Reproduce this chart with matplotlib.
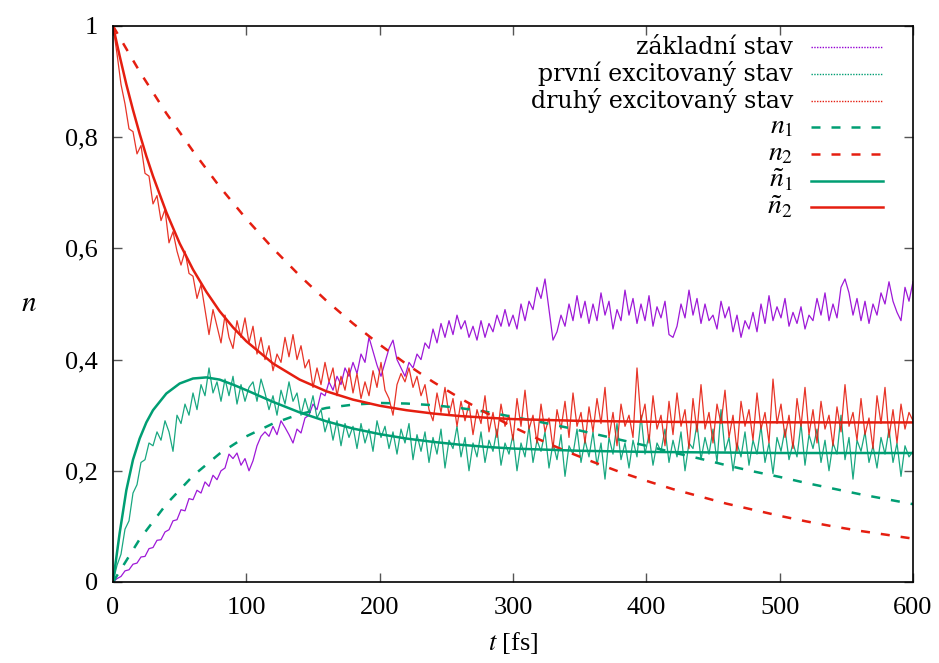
import numpy as np
import matplotlib
matplotlib.use("Agg")
import matplotlib.pyplot as plt

plt.rcParams['font.family'] = ['Liberation Serif', 'DejaVu Serif']
plt.rcParams['mathtext.fontset'] = 'stix'

# ---------------- data ----------------
t_noisy = np.arange(0, 601, 3)

ground_state = [
    0.000, 0.006, 0.010, 0.020, 0.022, 0.032, 0.034, 0.045, 0.046, 0.060,
    0.062, 0.075, 0.076, 0.090, 0.094, 0.110, 0.112, 0.130, 0.128, 0.150,
    0.148, 0.165, 0.160, 0.180, 0.172, 0.192, 0.184, 0.200, 0.205, 0.230,
    0.222, 0.232, 0.210, 0.222, 0.200, 0.218, 0.245, 0.262, 0.270, 0.262,
    0.280, 0.265, 0.290, 0.278, 0.265, 0.250, 0.275, 0.268, 0.295, 0.300,
    0.320, 0.310, 0.340, 0.335, 0.360, 0.345, 0.370, 0.355, 0.385, 0.370,
    0.395, 0.375, 0.410, 0.395, 0.440, 0.415, 0.390, 0.370, 0.395, 0.420,
    0.435, 0.400, 0.385, 0.370, 0.395, 0.385, 0.410, 0.400, 0.430, 0.420,
    0.455, 0.430, 0.465, 0.440, 0.470, 0.445, 0.480, 0.455, 0.470, 0.440,
    0.460, 0.435, 0.470, 0.440, 0.465, 0.450, 0.480, 0.460, 0.490, 0.460,
    0.480, 0.455, 0.500, 0.470, 0.505, 0.490, 0.530, 0.510, 0.545, 0.490,
    0.435, 0.450, 0.480, 0.460, 0.500, 0.470, 0.515, 0.475, 0.505, 0.465,
    0.500, 0.470, 0.520, 0.480, 0.505, 0.455, 0.490, 0.470, 0.525, 0.480,
    0.510, 0.465, 0.500, 0.470, 0.515, 0.460, 0.495, 0.475, 0.505, 0.445,
    0.440, 0.460, 0.500, 0.475, 0.525, 0.480, 0.510, 0.465, 0.500, 0.470,
    0.480, 0.455, 0.505, 0.475, 0.495, 0.450, 0.480, 0.440, 0.470, 0.455,
    0.485, 0.450, 0.500, 0.465, 0.515, 0.470, 0.495, 0.475, 0.510, 0.460,
    0.485, 0.465, 0.495, 0.455, 0.480, 0.470, 0.510, 0.480, 0.520, 0.470,
    0.500, 0.475, 0.530, 0.545, 0.520, 0.480, 0.510, 0.470, 0.505, 0.465,
    0.500, 0.480, 0.520, 0.500, 0.540, 0.505, 0.485, 0.470, 0.530, 0.505,
    0.540,
]

first_excited = [
    0.000, 0.030, 0.050, 0.095, 0.110, 0.160, 0.175, 0.215, 0.220, 0.250,
    0.245, 0.270, 0.255, 0.290, 0.270, 0.235, 0.300, 0.285, 0.320, 0.300,
    0.340, 0.310, 0.355, 0.335, 0.385, 0.340, 0.360, 0.325, 0.365, 0.335,
    0.370, 0.320, 0.355, 0.325, 0.350, 0.360, 0.325, 0.365, 0.340, 0.310,
    0.335, 0.300, 0.345, 0.320, 0.360, 0.325, 0.340, 0.300, 0.330, 0.305,
    0.335, 0.295, 0.310, 0.270, 0.295, 0.255, 0.290, 0.245, 0.285, 0.260,
    0.280, 0.240, 0.285, 0.250, 0.275, 0.235, 0.290, 0.260, 0.280, 0.240,
    0.270, 0.230, 0.275, 0.250, 0.285, 0.220, 0.265, 0.235, 0.270, 0.215,
    0.260, 0.230, 0.275, 0.205, 0.255, 0.240, 0.280, 0.225, 0.260, 0.200,
    0.250, 0.225, 0.270, 0.215, 0.255, 0.235, 0.275, 0.210, 0.250, 0.230,
    0.265, 0.200, 0.250, 0.225, 0.280, 0.215, 0.255, 0.235, 0.270, 0.205,
    0.250, 0.220, 0.265, 0.190, 0.245, 0.230, 0.275, 0.215, 0.255, 0.225,
    0.270, 0.210, 0.250, 0.185, 0.260, 0.230, 0.285, 0.220, 0.250, 0.205,
    0.255, 0.225, 0.300, 0.230, 0.265, 0.210, 0.250, 0.235, 0.275, 0.215,
    0.255, 0.225, 0.270, 0.200, 0.250, 0.240, 0.285, 0.220, 0.260, 0.230,
    0.275, 0.215, 0.310, 0.235, 0.260, 0.200, 0.250, 0.225, 0.270, 0.210,
    0.255, 0.230, 0.280, 0.215, 0.250, 0.195, 0.260, 0.235, 0.275, 0.220,
    0.250, 0.225, 0.285, 0.210, 0.265, 0.240, 0.275, 0.215, 0.255, 0.200,
    0.250, 0.230, 0.300, 0.220, 0.260, 0.185, 0.255, 0.235, 0.270, 0.215,
    0.245, 0.205, 0.260, 0.230, 0.275, 0.215, 0.250, 0.190, 0.245, 0.225,
    0.235,
]

second_excited = [
    1.000, 0.950, 0.895, 0.860, 0.815, 0.810, 0.770, 0.785, 0.735, 0.730,
    0.680, 0.695, 0.650, 0.670, 0.610, 0.630, 0.595, 0.570, 0.595, 0.555,
    0.550, 0.510, 0.535, 0.490, 0.445, 0.490, 0.460, 0.430, 0.480, 0.440,
    0.420, 0.470, 0.440, 0.475, 0.430, 0.460, 0.410, 0.440, 0.400, 0.425,
    0.380, 0.410, 0.395, 0.440, 0.405, 0.445, 0.400, 0.425, 0.385, 0.400,
    0.350, 0.385, 0.355, 0.395, 0.360, 0.385, 0.335, 0.370, 0.345, 0.385,
    0.340, 0.375, 0.330, 0.360, 0.335, 0.380, 0.350, 0.395, 0.345, 0.330,
    0.300, 0.355, 0.375, 0.360, 0.385, 0.350, 0.370, 0.335, 0.355, 0.310,
    0.290, 0.340, 0.305, 0.350, 0.300, 0.330, 0.280, 0.325, 0.290, 0.320,
    0.265, 0.310, 0.285, 0.335, 0.270, 0.305, 0.260, 0.320, 0.280, 0.300,
    0.255, 0.330, 0.280, 0.345, 0.275, 0.300, 0.250, 0.320, 0.270, 0.295,
    0.240, 0.310, 0.275, 0.325, 0.260, 0.340, 0.280, 0.305, 0.250, 0.315,
    0.270, 0.330, 0.285, 0.350, 0.260, 0.305, 0.245, 0.320, 0.280, 0.300,
    0.260, 0.385, 0.290, 0.320, 0.250, 0.335, 0.275, 0.300, 0.245, 0.325,
    0.265, 0.340, 0.280, 0.310, 0.240, 0.330, 0.270, 0.355, 0.275, 0.305,
    0.250, 0.320, 0.285, 0.345, 0.260, 0.300, 0.235, 0.325, 0.280, 0.310,
    0.255, 0.340, 0.275, 0.305, 0.250, 0.365, 0.285, 0.320, 0.260, 0.300,
    0.240, 0.330, 0.280, 0.350, 0.265, 0.310, 0.250, 0.325, 0.275, 0.300,
    0.245, 0.315, 0.270, 0.355, 0.280, 0.305, 0.255, 0.330, 0.265, 0.295,
    0.240, 0.335, 0.285, 0.350, 0.260, 0.310, 0.250, 0.320, 0.275, 0.305,
    0.290,
]

# model curves n1, n2 (dashed)
t_model = np.arange(0, 601, 20)
n1 = [0.000, 0.077, 0.140, 0.191, 0.231, 0.262, 0.285, 0.302, 0.313, 0.319,
      0.322, 0.321, 0.318, 0.313, 0.306, 0.297, 0.288, 0.278, 0.267, 0.256,
      0.245, 0.233, 0.222, 0.210, 0.199, 0.189, 0.178, 0.168, 0.158, 0.149,
      0.140]
n2 = [1.000, 0.918, 0.843, 0.775, 0.711, 0.653, 0.600, 0.551, 0.506, 0.465,
      0.427, 0.392, 0.360, 0.331, 0.304, 0.279, 0.256, 0.235, 0.216, 0.198,
      0.182, 0.167, 0.154, 0.141, 0.130, 0.119, 0.109, 0.100, 0.092, 0.085,
      0.078]

# fitted curves ñ1, ñ2 (solid)
t_fit = [0, 5, 10, 15, 20, 25, 30, 40, 50, 60, 70, 80, 90, 100, 120, 140, 160,
         180, 200, 220, 240, 260, 280, 300, 350, 400, 450, 500, 550, 600]
n1_fit = [0.000, 0.088, 0.165, 0.220, 0.258, 0.287, 0.309, 0.339, 0.357, 0.366,
          0.368, 0.364, 0.355, 0.345, 0.324, 0.305, 0.289, 0.276, 0.266, 0.258,
          0.252, 0.247, 0.243, 0.240, 0.236, 0.234, 0.233, 0.232, 0.232, 0.232]
n2_fit = [1.000, 0.946, 0.895, 0.849, 0.806, 0.766, 0.730, 0.665, 0.609, 0.562,
          0.522, 0.487, 0.458, 0.433, 0.393, 0.364, 0.343, 0.328, 0.317, 0.309,
          0.303, 0.2985, 0.2955, 0.293, 0.2898, 0.2883, 0.2875, 0.2872, 0.287, 0.287]

labels = ['základní stav', 'první excitovaný stav', 'druhý excitovaný stav',
          r'$n_1$', r'$n_2$', r'$\tilde{n}_1$', r'$\tilde{n}_2$']

x_ticks = [0, 100, 200, 300, 400, 500, 600]
y_ticks = [0, 0.2, 0.4, 0.6, 0.8, 1.0]
y_tick_labels = ['0', '0,2', '0,4', '0,6', '0,8', '1']

# ---------------- style ----------------
PURPLE = '#9400D3'
GREEN = '#009E73'
RED = '#E51E10'
FS = 19

fig = plt.figure(figsize=(9.39, 6.63), dpi=100)
ax = fig.add_axes([113 / 939, 81 / 663, 800 / 939, 556 / 663])

noisy_kw = dict(lw=0.9, alpha=0.9)
ax.plot(t_noisy, ground_state, color=PURPLE, **noisy_kw)
ax.plot(t_noisy, first_excited, color=GREEN, **noisy_kw)
ax.plot(t_noisy, second_excited, color=RED, **noisy_kw)

dash_kw = dict(lw=1.8, dashes=(3.6, 4.4))
ax.plot(t_model, n1, color=GREEN, **dash_kw)
ax.plot(t_model, n2, color=RED, **dash_kw)
ax.plot(t_fit, n1_fit, color=GREEN, lw=1.8)
ax.plot(t_fit, n2_fit, color=RED, lw=1.8)

ax.set_xlim(0, 600)
ax.set_ylim(0, 1)
ax.set_xticks(x_ticks)
ax.set_xticklabels([str(v) for v in x_ticks])
ax.set_yticks(y_ticks)
ax.set_yticklabels(y_tick_labels)
ax.tick_params(direction='in', length=6.5, width=1.0, color='#555555',
               top=True, right=True, labelsize=FS, pad=11)
for s in ax.spines.values():
    s.set_linewidth(1.2)
    s.set_color('black')

ax.set_xlabel(r'$t$ [fs]', fontsize=FS, labelpad=8)
ax.set_ylabel(r'$n$', fontsize=FS + 2, rotation=0, labelpad=26, va='center')

# legend drawn manually (right-aligned texts, sample lines on right)
styles = [
    dict(color=PURPLE, lw=1.0, ls=(0, (1, 1))),
    dict(color=GREEN, lw=1.0, ls=(0, (1, 1))),
    dict(color=RED, lw=1.0, ls=(0, (1, 1))),
    dict(color=GREEN, lw=1.8, dashes=(3.6, 4.4)),
    dict(color=RED, lw=1.8, dashes=(3.6, 4.4)),
    dict(color=GREEN, lw=1.8),
    dict(color=RED, lw=1.8),
]
y0 = (582 - 47.3) / 556
dy = 26.7 / 556
for i, (lab, st) in enumerate(zip(labels, styles)):
    yy = y0 - i * dy
    if i < 3:
        ax.text(0.85, yy, lab, transform=ax.transAxes, ha='right', va='center',
                fontsize=17, family=['DejaVu Serif'])
    else:
        ax.text(0.85, yy, lab, transform=ax.transAxes, ha='right', va='center',
                fontsize=FS + 1)
    ax.plot([0.8725, 0.9625], [yy, yy], transform=ax.transAxes, **st)

fig.savefig('out.png', dpi=100)
